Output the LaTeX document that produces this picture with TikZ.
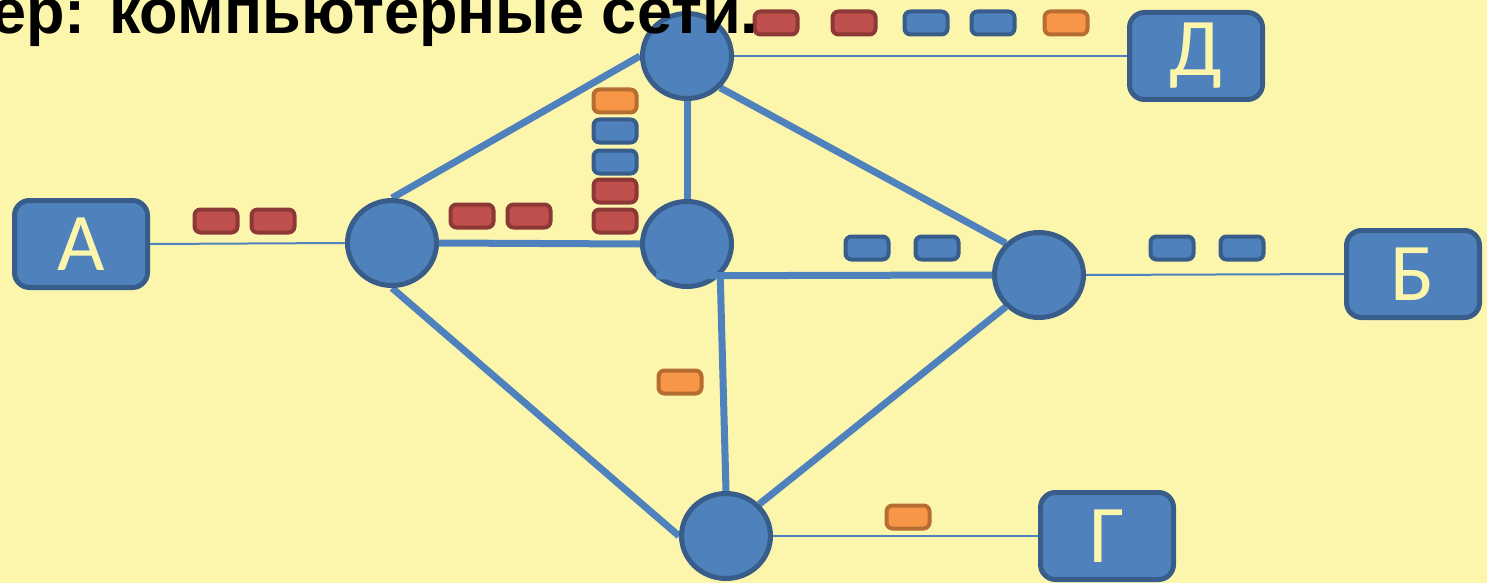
\documentclass[tikz,border=0pt]{standalone}
\usepackage{fontspec}
\setmainfont{Carlito}
\newfontfamily\headfont{Liberation Sans}
\usetikzlibrary{shapes.geometric}
\definecolor{paper}{HTML}{FCF6AD}
\definecolor{netblue}{HTML}{4F81BD}
\definecolor{netblueedge}{HTML}{385D8A}
\definecolor{pkred}{HTML}{C0504D}
\definecolor{pkrededge}{HTML}{8C3836}
\definecolor{pkorange}{HTML}{F79646}
\definecolor{pkorangeedge}{HTML}{B66D31}
\pgfdeclarelayer{bg}
\pgfdeclarelayer{links}
\pgfsetlayers{bg,links,main}
\begin{document}
\begin{tikzpicture}[x=0.5pt,y=-0.5pt,
  router/.style={ellipse, draw=netblueedge, fill=netblue, line width=2.5pt,
    minimum width=44.5pt, minimum height=42.5pt, inner sep=0pt},
  host/.style={rectangle, rounded corners=7.5pt, draw=netblueedge, fill=netblue,
    line width=2.5pt, minimum width=66.5pt, minimum height=43.5pt, inner sep=0pt,
    text=paper, font=\fontsize{41}{41}\selectfont},
  packet/.style={rectangle, rounded corners=3pt, line width=2pt,
    minimum width=21.5pt, minimum height=11.5pt, inner sep=0pt},
  pred/.style={packet, fill=pkred, draw=pkrededge},
  pblue/.style={packet, fill=netblue, draw=netblueedge},
  porange/.style={packet, fill=pkorange, draw=pkorangeedge},
  trunk/.style={draw=netblue, line width=3.5pt},
  access/.style={draw=netblue, line width=1pt},
]
\useasboundingbox (0,0) rectangle (1487,583);
\begin{pgfonlayer}{bg}
  \fill[paper] (0,0) rectangle (1487,583);
\end{pgfonlayer}

% routers
\node[router] (r1) at (687,56) {};
\node[router] (r2) at (687,244) {};
\node[router] (r3) at (392,243) {};
\node[router] (r4) at (1039,275) {};
\node[router] (r5) at (726,536) {};

% hosts
\node[host] (hA) at (81,244) {А};
\node[host] (hD) at (1196,56) {Д};
\node[host] (hB) at (1413,274) {Б};
\node[host] (hG) at (1107,536) {Г};

% links
\begin{pgfonlayer}{links}
  \draw[trunk] (r3.north) -- (r1.west);
  \draw[trunk] (r3.east) -- (r2.west);
  \draw[trunk] (r3.south) -- (r5.west);
  \draw[trunk] (r1.south) -- (r2.north);
  \draw[trunk] (r1.south east) -- (r4.north west);
  \draw[trunk] (r2.south east) -- (r5.north);
  \draw[trunk] (r4.south west) -- (r5.north east);
  \draw[access] (hA.east) -- (r3.west);
  \draw[access] (r1.east) -- (hD.west);
  \draw[access] (r4.east) -- (hB.west);
  \draw[access] (r5.east) -- (hG.west);
\end{pgfonlayer}
\draw[trunk] ([xshift=-32pt]r2.south east) -- (r4.west);

% packets in transit
\node[pred] (a1) at (216,221) {};
\node[pred] (a2) at (273,221) {};
\node[pred] (b1) at (472,216) {};
\node[pred] (b2) at (529,216) {};
\node[porange] (q1) at (615,101) {};
\node[pblue] (q2) at (615,131) {};
\node[pblue] (q3) at (615,162) {};
\node[pred] (q4) at (615,191) {};
\node[pred] (q5) at (615,221) {};
\node[pred] (d1) at (776,23) {};
\node[pred] (d2) at (854,23) {};
\node[pblue] (d3) at (926,23) {};
\node[pblue] (d4) at (993,23) {};
\node[porange] (d5) at (1066,23) {};
\node[pblue] (c1) at (867,248) {};
\node[pblue] (c2) at (937,248) {};
\node[pblue] (e1) at (1172,248) {};
\node[pblue] (e2) at (1242,248) {};
\node[porange] (f1) at (680,382) {};
\node[porange] (g1) at (908,517) {};

% heading (its start runs off the left edge)
\node[anchor=base west, inner sep=0pt,
  font=\headfont\bfseries\fontsize{31.5}{31.5}\selectfont]
  (title) at (-9,34) {ер: компьютерные сети.};
\end{tikzpicture}
\end{document}
